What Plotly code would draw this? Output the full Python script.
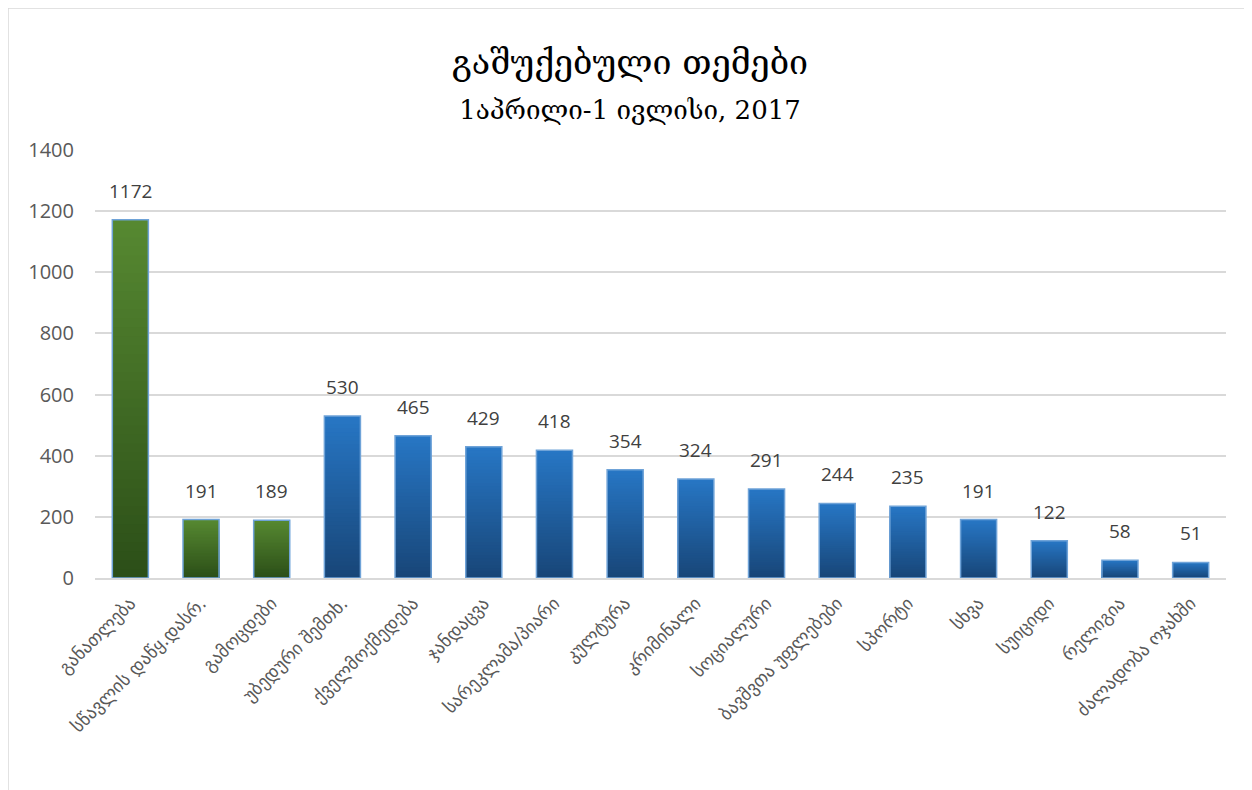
import plotly.graph_objects as go

categories = ["განათლება", "სწავლის დაწყ.დასრ.", "გამოცდები", "უბედური შემთხ.",
              "ქველმოქმედება", "ჯანდაცვა", "სარეკლამა/პიარი", "კულტურა",
              "კრიმინალი", "სოციალური", "ბავშვთა უფლებები", "სპორტი",
              "სხვა", "სუიციდი", "რელიგია", "ძალადობა ოჯახში"]
values = [1172, 191, 189, 530, 465, 429, 418, 354, 324, 291, 244, 235, 191, 122, 58, 51]
groups = ["edu", "edu", "edu"] + ["other"] * 13
tick_vals = [0, 200, 400, 600, 800, 1000, 1200, 1400]

# gradient end colours (top, bottom) per group
grad = {"edu": ((0x56, 0x88, 0x31), (0x2c, 0x4f, 0x18)),
        "other": ((0x27, 0x76, 0xc4), (0x18, 0x46, 0x78))}

W, H = 1244, 782
ml, mr, mt, mb = 87, 26, 142, 212
N = 40  # gradient steps

fig = go.Figure()


def mix(c_top, c_bot, t):
    return "rgb(%d,%d,%d)" % tuple(round(b + (a - b) * t) for a, b in zip(c_top, c_bot))


# overlapping layers: full-height light layer first, shorter darker layers on top
for k in range(N):
    frac = 1 - k / N
    t = 1 - k / (N - 1)
    cols = [mix(grad[g][0], grad[g][1], t) for g in groups]
    fig.add_trace(go.Bar(
        x=categories, y=[v * frac for v in values],
        marker=dict(color=cols, line=dict(width=0)),
        hoverinfo="skip",
    ))

fig.add_trace(go.Bar(
    x=categories, y=values,
    marker=dict(color="rgba(0,0,0,0)", line=dict(color="#6fa3d8", width=1.5)),
    hoverinfo="x+y",
))

annotations = [
    dict(x=c, y=v, xref="x", yref="y", text=str(v), showarrow=False,
         yanchor="bottom", yshift=14,
         font=dict(family="Open Sans, DejaVu Sans", size=19, color="#404040"))
    for c, v in zip(categories, values)
]

fig.update_layout(
    width=W, height=H,
    margin=dict(l=ml, r=mr, t=mt, b=mb),
    paper_bgcolor="white", plot_bgcolor="white",
    barmode="overlay",
    bargap=0.49,
    showlegend=False,
    title=dict(
        text="<span style='font-size:34px'>გაშუქებული თემები</span><br>"
             "<span style='font-size:6px'> </span><br>"
             "<span style='font-size:26px'>1აპრილი-1 ივლისი, 2017</span>",
        x=0.5, xanchor="center", y=0.915, yanchor="middle",
        font=dict(family="DejaVu Serif, serif", color="#000000"),
    ),
    annotations=annotations,
    yaxis=dict(range=[0, 1400], tickvals=tick_vals, showgrid=True,
               gridcolor="#d9d9d9", gridwidth=1.5, zeroline=False,
               showline=False, ticks="", ticklabelstandoff=20,
               tickfont=dict(family="Open Sans, DejaVu Sans", size=20, color="#595959")),
    xaxis=dict(tickangle=-45, showline=True, linecolor="#d9d9d9", linewidth=1.5,
               ticks="", ticklabelstandoff=6,
               tickfont=dict(family="DejaVu Sans", size=18, color="#595959")),
    shapes=[
        dict(type="line", xref="paper", yref="paper",
             x0=(0 - ml) / (W - ml - mr), x1=(W - ml) / (W - ml - mr),
             y0=(H - mb) / (H - mt - mb), y1=(H - mb) / (H - mt - mb),
             line=dict(color="#d9d9d9", width=1.5)),
        dict(type="line", xref="paper", yref="paper",
             x0=(0 - ml) / (W - ml - mr), x1=(0 - ml) / (W - ml - mr),
             y0=(H - mb) / (H - mt - mb), y1=-(mb) / (H - mt - mb),
             line=dict(color="#d9d9d9", width=1.5)),
    ],
)

fig.write_html("out.html")
